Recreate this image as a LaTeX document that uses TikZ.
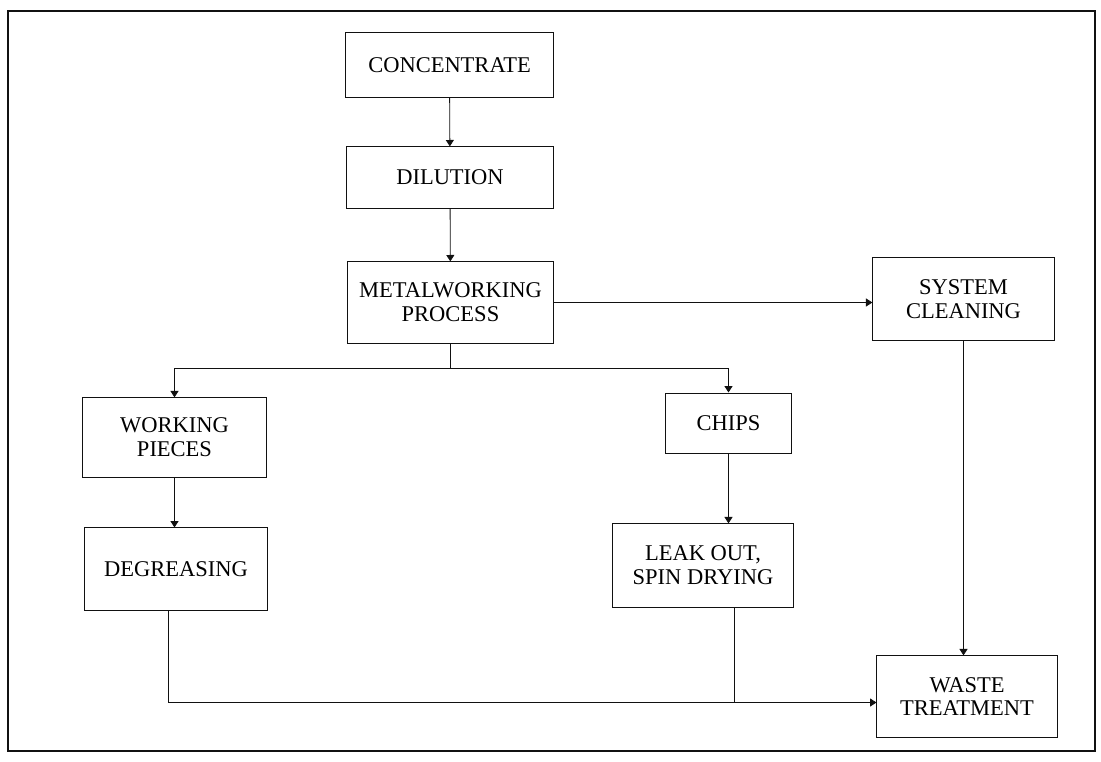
\documentclass[tikz,border=0pt]{standalone}
\usepackage{fontspec}
\setmainfont{Liberation Serif}
\usetikzlibrary{arrows.meta,positioning}
\definecolor{ink}{HTML}{111111}
\tikzset{box/.style={draw=ink,line width=0.7pt,inner sep=0pt,align=center,
 font=\fontsize{16}{17}\selectfont},arr/.style={-{Triangle[length=1.6mm,width=2mm]},line width=0.6pt,draw=ink},
 link/.style={line width=0.6pt,draw=ink}}
\begin{document}
\begin{tikzpicture}[x=0.025cm,y=-0.025cm]
\useasboundingbox (0,0) rectangle (1101,762);
\draw[ink,line width=1.5pt] (8,11) rectangle (1095,751);
\node[box,minimum width=5.18cm,minimum height=1.60cm] (conc) at (449.5,65) {CONCENTRATE};
\node[box,minimum width=5.15cm,minimum height=1.53cm] (dil) at (450,177.5) {DILUTION};
\node[box,minimum width=5.13cm,minimum height=2.03cm] (metal) at (450.5,302.5) {METALWORKING\\PROCESS};
\node[box,minimum width=4.53cm,minimum height=2.05cm] (sysclean) at (963.5,299) {SYSTEM\\CLEANING};
\node[box,minimum width=4.58cm,minimum height=1.98cm] (workp) at (174.5,437.5) {WORKING\\PIECES};
\node[box,minimum width=3.13cm,minimum height=1.50cm] (chips) at (728.5,423) {CHIPS};
\node[box,minimum width=4.55cm,minimum height=2.05cm] (degr) at (176,569) {DEGREASING};
\node[box,minimum width=4.50cm,minimum height=2.08cm] (leak) at (703,565.5) {LEAK OUT,\\SPIN DRYING};
\node[box,minimum width=4.50cm,minimum height=2.03cm] (waste) at (967,696.5) {WASTE\\TREATMENT};
\coordinate (split) at (metal.south |- 0,368);
\coordinate (wasteinlet) at ([yshift=-0.15cm]waste.west);
\draw[arr] (conc)--(dil);
\draw[arr] (dil)--(metal);
\draw[arr] (metal.east)--(sysclean.west |- metal.east);
\draw[link] (metal.south)--(split);
\draw[arr] (split)-|(workp.north);
\draw[arr] (split)-|(chips.north);
\draw[arr] (workp.south)--(workp.south |- degr.north);
\draw[arr] (chips.south)--(chips.south |- leak.north);
\draw[arr] (sysclean.south)--(sysclean.south |- waste.north);
\draw[arr] ([xshift=-0.18cm]degr.south)|-(wasteinlet);
\draw[link] ([xshift=0.78cm]leak.south)--([xshift=0.78cm]leak.south |- wasteinlet);
\end{tikzpicture}
\end{document}
